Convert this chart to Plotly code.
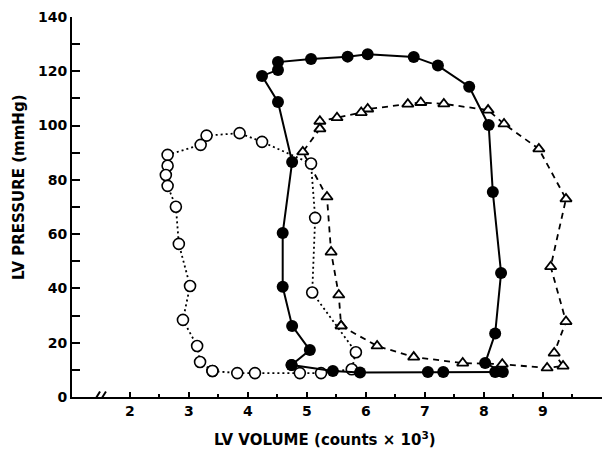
import plotly.graph_objects as go

# Control loop (filled circles, solid line)
vol_ctrl = [4.74, 5.44, 5.90, 7.05, 7.31, 8.19, 8.32, 8.02, 8.19, 8.29, 8.15, 8.08, 7.75, 7.22,
            6.81, 6.03, 5.69, 5.07, 4.51, 4.51, 4.24, 4.51, 4.75, 4.59, 4.59, 4.75, 5.05, 4.74]
prs_ctrl = [11.8, 9.6, 9.0, 9.2, 9.2, 9.2, 9.2, 12.5, 23.4, 45.7, 75.5, 100.2, 114.3, 122.1,
            125.3, 126.3, 125.4, 124.5, 123.4, 120.5, 118.3, 108.7, 86.6, 60.4, 40.6, 26.2, 17.3, 11.8]

# Open circles, dotted line
vol_open = [3.40, 3.82, 4.12, 4.88, 5.24, 5.76, 5.83, 5.09, 5.14, 5.07, 4.24, 3.86, 3.30, 3.20,
            2.64, 2.64, 2.61, 2.64, 2.78, 2.83, 3.02, 2.90, 3.14, 3.19, 3.40]
prs_open = [9.6, 8.8, 8.8, 8.8, 8.8, 10.2, 16.5, 38.5, 66.0, 86.0, 94.0, 97.2, 96.3, 92.9,
            89.2, 85.2, 81.8, 77.8, 70.1, 56.4, 40.9, 28.4, 18.8, 12.9, 9.6]

# Open triangles, dashed line
vol_tri = [5.58, 6.19, 6.81, 7.64, 8.31, 9.07, 9.34, 9.19, 9.39, 9.13, 9.39, 8.93, 8.34, 8.07,
           7.32, 6.93, 6.71, 6.03, 5.92, 5.51, 5.22, 5.22, 4.93, 5.34, 5.41, 5.54, 5.58]
prs_tri = [26.2, 18.8, 14.7, 12.5, 12.1, 10.7, 11.4, 16.2, 27.8, 48.0, 73.0, 91.4, 100.6, 105.7,
           108.0, 108.5, 107.9, 106.1, 104.8, 102.9, 101.6, 98.8, 90.3, 73.7, 53.4, 37.6, 26.2]

x_ticks = [2, 3, 4, 5, 6, 7, 8, 9, 10]
x_minor = [2.5, 3.5, 4.5, 5.5, 6.5, 7.5, 8.5, 9.5]
y_ticks = [0, 20, 40, 60, 80, 100, 120, 140]

tick_font = dict(family="DejaVu Sans", size=14, color="black", weight="bold")
title_font = dict(family="DejaVu Sans", size=15, color="black", weight="bold")

fig = go.Figure()
fig.add_trace(go.Scatter(
    x=vol_tri, y=prs_tri, mode="lines+markers",
    line=dict(color="black", width=1.8, dash="6px,5px"),
    marker=dict(symbol="triangle-up", size=10, color="white", line=dict(color="black", width=1.8)),
    cliponaxis=False, showlegend=False))
fig.add_trace(go.Scatter(
    x=vol_open, y=prs_open, mode="lines+markers",
    line=dict(color="black", width=1.8, dash="2px,3px"),
    marker=dict(symbol="circle", size=11, color="white", line=dict(color="black", width=1.6)),
    cliponaxis=False, showlegend=False))
fig.add_trace(go.Scatter(
    x=vol_ctrl, y=prs_ctrl, mode="lines+markers",
    line=dict(color="black", width=2),
    marker=dict(symbol="circle", size=12, color="black", line=dict(color="black", width=0)),
    cliponaxis=False, showlegend=False))

# axis break "//"
for x0 in (1.335, 1.435):
    fig.add_shape(type="line", xref="x", yref="y", x0=x0, y0=-3.6, x1=x0 + 0.16, y1=2.0,
                  line=dict(color="black", width=2))

fig.update_layout(
    width=610, height=451,
    margin=dict(l=72, r=8, t=17, b=54),
    plot_bgcolor="white", paper_bgcolor="white",
    xaxis=dict(range=[1.02, 10], showline=True, linecolor="black", linewidth=2,
               ticks="inside", ticklen=5, tickwidth=2, tickcolor="black",
               tickmode="array", tickvals=x_ticks, ticktext=[str(v) for v in x_ticks],
               minor=dict(tickmode="array", tickvals=x_minor, ticks="inside", ticklen=3,
                          tickwidth=1.5, tickcolor="black", showgrid=False),
               showgrid=False, zeroline=False, tickfont=tick_font),
    yaxis=dict(range=[0, 140], showline=True, linecolor="black", linewidth=2,
               ticks="inside", ticklen=8, tickwidth=2, tickcolor="black",
               tickmode="array", tickvals=y_ticks,
               minor=dict(dtick=10, ticks="inside", ticklen=8, tickwidth=1.5,
                          tickcolor="black", showgrid=False),
               showgrid=False, zeroline=False, tickfont=tick_font),
    annotations=[
        dict(text="LV VOLUME (counts \u00d7 10<sup>3</sup>)", xref="paper", yref="paper",
             x=(325 - 72) / 530, y=(397 - 439) / 380, xanchor="center", yanchor="middle",
             showarrow=False, font=title_font),
        dict(text="LV PRESSURE (mmHg)", xref="paper", yref="paper", textangle=-90,
             x=(19 - 72) / 530, y=(397 - 187) / 380, xanchor="center", yanchor="middle",
             showarrow=False, font=title_font),
    ],
)

fig.write_html("out.html")
